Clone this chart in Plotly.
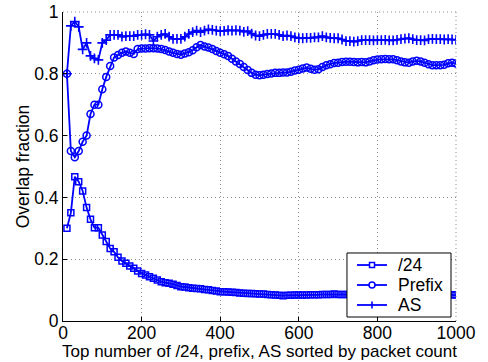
import plotly.graph_objects as go

x_vals = list(range(10, 1001, 10))

slash24 = [0.300, 0.350, 0.467, 0.451, 0.421, 0.367, 0.329, 0.302, 0.302, 0.278,
           0.257, 0.235, 0.224, 0.206, 0.194, 0.187, 0.178, 0.171, 0.162, 0.154,
           0.149, 0.143, 0.138, 0.133, 0.127, 0.124, 0.122, 0.119, 0.115, 0.111,
           0.110, 0.108, 0.106, 0.105, 0.104, 0.102, 0.101, 0.099, 0.097, 0.095,
           0.095, 0.094, 0.093, 0.092, 0.091, 0.090, 0.089, 0.089, 0.088, 0.087,
           0.087, 0.086, 0.085, 0.084, 0.083, 0.082, 0.083, 0.083, 0.084, 0.084,
           0.084, 0.084, 0.085, 0.085, 0.085, 0.086, 0.086, 0.086, 0.087, 0.086,
           0.086, 0.086, 0.086, 0.085, 0.086, 0.085, 0.085, 0.086, 0.085, 0.085,
           0.085, 0.084, 0.085, 0.085, 0.084, 0.084, 0.085, 0.085, 0.084, 0.084,
           0.084, 0.085, 0.085, 0.084, 0.084, 0.085, 0.084, 0.084, 0.085, 0.084]

prefix = [0.800, 0.550, 0.530, 0.550, 0.580, 0.600, 0.670, 0.700, 0.700, 0.750,
          0.790, 0.825, 0.853, 0.861, 0.868, 0.872, 0.868, 0.864, 0.880, 0.882,
          0.882, 0.883, 0.883, 0.882, 0.880, 0.877, 0.872, 0.868, 0.864, 0.862,
          0.866, 0.870, 0.876, 0.886, 0.893, 0.888, 0.885, 0.880, 0.874, 0.868,
          0.863, 0.858, 0.849, 0.840, 0.832, 0.822, 0.812, 0.803, 0.797, 0.795,
          0.797, 0.799, 0.801, 0.803, 0.803, 0.804, 0.804, 0.807, 0.811, 0.813,
          0.817, 0.820, 0.816, 0.813, 0.815, 0.822, 0.828, 0.831, 0.835, 0.836,
          0.838, 0.839, 0.839, 0.838, 0.837, 0.838, 0.837, 0.840, 0.844, 0.846,
          0.847, 0.848, 0.847, 0.847, 0.844, 0.840, 0.837, 0.836, 0.840, 0.842,
          0.840, 0.836, 0.831, 0.828, 0.828, 0.828, 0.829, 0.834, 0.836, 0.833]

as_vals = [0.800, 0.955, 0.969, 0.952, 0.879, 0.900, 0.858, 0.850, 0.845, 0.900,
           0.909, 0.926, 0.926, 0.926, 0.920, 0.922, 0.922, 0.922, 0.926, 0.926,
           0.928, 0.926, 0.906, 0.920, 0.926, 0.929, 0.920, 0.913, 0.913, 0.913,
           0.920, 0.929, 0.935, 0.940, 0.935, 0.940, 0.944, 0.942, 0.940, 0.938,
           0.939, 0.941, 0.940, 0.941, 0.940, 0.936, 0.938, 0.930, 0.924, 0.922,
           0.926, 0.929, 0.929, 0.929, 0.926, 0.922, 0.924, 0.922, 0.918, 0.915,
           0.915, 0.916, 0.916, 0.918, 0.918, 0.922, 0.918, 0.916, 0.915, 0.915,
           0.911, 0.906, 0.906, 0.904, 0.906, 0.909, 0.909, 0.909, 0.908, 0.909,
           0.909, 0.910, 0.908, 0.908, 0.910, 0.912, 0.914, 0.915, 0.912, 0.909,
           0.909, 0.908, 0.912, 0.913, 0.912, 0.912, 0.911, 0.912, 0.911, 0.910]

series_names = ["/24", "Prefix", "AS"]
x_ticks = [0, 200, 400, 600, 800, 1000]
y_ticks = [0, 0.2, 0.4, 0.6, 0.8, 1]
y_tick_labels = ["0", "0.2", "0.4", "0.6", "0.8", "1"]
x_title = "Top number of /24, prefix, AS sorted by packet count"
y_title = "Overlap fraction"

BLUE = "#0000ff"
FONT = "Liberation Sans, Arial, sans-serif"
FS = 17.5
GRID = "#8c8c8c"
GRIDDASH = "1px,3px"

fig = go.Figure()
fig.add_trace(go.Scatter(
    x=x_vals, y=slash24, name=series_names[0], mode="lines+markers",
    line=dict(color=BLUE, width=1.8),
    marker=dict(symbol="square-open", size=6, color=BLUE, line=dict(width=1.5, color=BLUE))))
fig.add_trace(go.Scatter(
    x=x_vals, y=prefix, name=series_names[1], mode="lines+markers",
    line=dict(color=BLUE, width=1.8),
    marker=dict(symbol="circle-open", size=7, color=BLUE, line=dict(width=1.5, color=BLUE))))
fig.add_trace(go.Scatter(
    x=x_vals, y=as_vals, name=series_names[2], mode="lines+markers",
    line=dict(color=BLUE, width=1.8),
    marker=dict(symbol="cross-thin-open", size=7, color=BLUE, line=dict(width=1.6, color=BLUE))))

shapes = [
    # dotted top and right edges (grid at y=1 and x=1000)
    dict(type="line", xref="paper", yref="paper", x0=0, x1=1, y0=1, y1=1,
         line=dict(color=GRID, width=1, dash=GRIDDASH)),
    dict(type="line", xref="paper", yref="paper", x0=1, x1=1, y0=0, y1=1,
         line=dict(color=GRID, width=1, dash=GRIDDASH)),
]

# Custom legend (MATLAB-style box)
lg_x0, lg_x1 = 0.7226, 0.9873
lg_y0, lg_y1 = 0.0129, 0.2201
row_y = [0.1812, 0.1165, 0.0518]
ln_x0, ln_x1, mk_x = 0.748, 0.8244, 0.7863
txt_x = 0.848
shapes.append(dict(type="rect", xref="paper", yref="paper",
                   x0=lg_x0, x1=lg_x1, y0=lg_y0, y1=lg_y1,
                   line=dict(color="black", width=1), fillcolor="white", layer="above"))
annotations = []
for i, name in enumerate(series_names):
    y = row_y[i]
    shapes.append(dict(type="line", xref="paper", yref="paper", x0=ln_x0, x1=ln_x1,
                       y0=y, y1=y, line=dict(color=BLUE, width=1.8), layer="above"))
    common = dict(xref="paper", yref="paper", xsizemode="pixel", ysizemode="pixel",
                  xanchor=mk_x, yanchor=y, layer="above")
    if i == 0:
        shapes.append(dict(type="rect", x0=-2.5, x1=2.5, y0=-2.5, y1=2.5,
                           line=dict(color=BLUE, width=1.5), fillcolor="white", **common))
    elif i == 1:
        shapes.append(dict(type="circle", x0=-3, x1=3, y0=-3, y1=3,
                           line=dict(color=BLUE, width=1.5), fillcolor="white", **common))
    else:
        shapes.append(dict(type="line", x0=0, x1=0, y0=-3.5, y1=3.5,
                           line=dict(color=BLUE, width=1.6), **common))
    annotations.append(dict(xref="paper", yref="paper", x=txt_x, y=y, text=name,
                            showarrow=False, xanchor="left", yanchor="middle",
                            font=dict(family=FONT, size=FS, color="black")))

# x-axis title as an annotation pinned to the bottom of the figure
annotations.append(dict(xref="paper", yref="paper", x=0.5, y=-41 / 309, text=x_title,
                        showarrow=False, xanchor="center", yanchor="bottom",
                        borderpad=0, font=dict(family=FONT, size=17, color="black")))

fig.update_layout(
    width=488, height=362,
    margin=dict(l=63, r=32, t=12, b=41),
    paper_bgcolor="white", plot_bgcolor="white",
    font=dict(family=FONT, size=FS, color="black"),
    showlegend=False,
    shapes=shapes, annotations=annotations,
    xaxis=dict(range=[0, 1000], tickvals=x_ticks, ticktext=[str(v) for v in x_ticks],
               showline=True, linecolor="black", linewidth=1, mirror=False,
               ticks="inside", ticklen=4, tickcolor="black", automargin=False,
               ticklabelstandoff=-4,
               showgrid=True, gridcolor=GRID, griddash=GRIDDASH, gridwidth=1,
               zeroline=False),
    yaxis=dict(range=[0, 1], tickvals=y_ticks, ticktext=y_tick_labels,
               showline=True, linecolor="black", linewidth=1, mirror=False,
               ticks="inside", ticklen=4, tickcolor="black",
               automargin=False,
               showgrid=True, gridcolor=GRID, griddash=GRIDDASH, gridwidth=1,
               zeroline=False,
               title=dict(text=y_title, standoff=0, font=dict(size=FS))),
)

fig.write_html("out.html")
